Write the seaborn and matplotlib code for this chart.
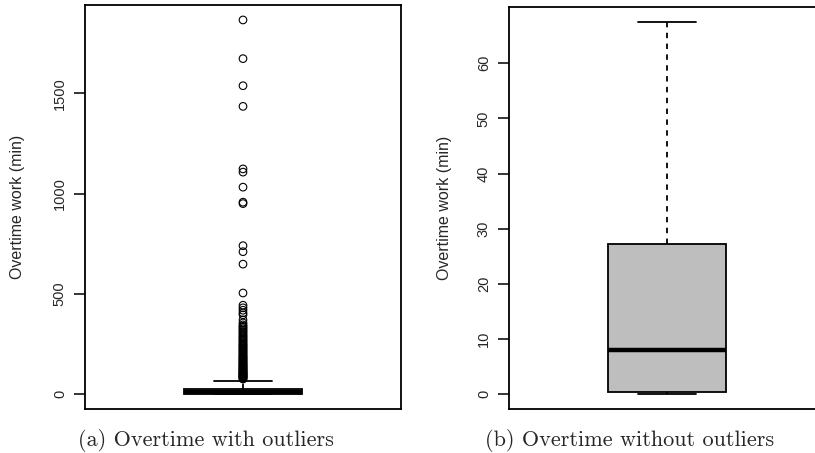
import numpy as np
import pandas as pd
import seaborn as sns
import matplotlib.pyplot as plt

# five-number summary of overtime (min)
overtime_core = [0.0, 0.36, 0.36, 7.92, 27.25, 27.25, 67.5]

# outliers drawn in the left panel (min)
overtime_outliers = [
    1866, 1673, 1538, 1435, 1123, 1107, 1032, 957, 950, 740, 710, 648, 504,
    443, 430, 418, 405, 395, 370, 355, 345, 338,
    332, 325, 318, 312, 305, 298, 292, 286, 280, 274, 268, 262, 256, 250,
    245, 240, 235, 230, 225, 220, 215, 210, 205, 200, 195, 190, 186, 182,
    178, 174, 170, 165, 161, 158, 154, 150, 146, 143, 140, 136, 133, 130,
    126, 123, 120, 117, 114, 110, 108, 105, 103, 100, 98, 95, 93, 90, 88,
    85, 83, 80, 78, 75,
]

left_ticks = [0, 500, 1000, 1500]
right_ticks = [0, 10, 20, 30, 40, 50, 60]
ylabel = "Overtime work (min)"
captions = ["(a) Overtime with outliers", "(b) Overtime without outliers"]

sns.set_style("white")
plt.rcParams["font.family"] = ["Liberation Sans", "DejaVu Sans"]

fig = plt.figure(figsize=(8.15, 4.53), dpi=100)
ax1 = fig.add_axes([85 / 815, 1 - 409 / 453, 316 / 815, 404 / 453])
ax2 = fig.add_axes([509 / 815, 1 - 409 / 453, 316 / 815, 402 / 453])

box_kws = dict(
    width=0.4, color="#BEBEBE", saturation=1, linecolor="black", linewidth=1.3,
    whis=np.inf, showfliers=False,
    whiskerprops=dict(linestyle=(0, (3, 3))),
    medianprops=dict(linewidth=3.2),
)

core = pd.DataFrame({"overtime": overtime_core})
out = pd.DataFrame({"x": np.zeros(len(overtime_outliers)), "overtime": overtime_outliers})

# (a) with outliers
sns.boxplot(data=core, y="overtime", ax=ax1, **box_kws)
sns.scatterplot(data=out, x="x", y="overtime", ax=ax1, marker="o", s=30,
                fc="none", ec="black", linewidth=0.8, zorder=3, legend=False)
ax1.set_ylim(-74.6, 1940.6)
ax1.set_yticks(left_ticks)

# (b) without outliers
sns.boxplot(data=core, y="overtime", ax=ax2, **box_kws)
ax2.set_ylim(-2.7, 70.2)
ax2.set_yticks(right_ticks)

for ax, lx in [(ax1, -0.19), (ax2, -0.18)]:
    ax.set_xlim(-0.54, 0.54)
    ax.set_xticks([])
    ax.set_xlabel("")
    ax.set_ylabel(ylabel, fontsize=11.5)
    ax.yaxis.set_label_coords(lx, 0.5)
    ax.tick_params(axis="y", length=8, width=1.1, pad=5, labelsize=10.5,
                   left=True, color="black")
    for lab in ax.get_yticklabels():
        lab.set_rotation(90)
        lab.set_va("center")
    for sp in ax.spines.values():
        sp.set_color("black")
        sp.set_linewidth(1.3)

fig.text(206 / 815, 1 - 440 / 453, captions[0], ha="center", va="center",
         family="cmr10", fontsize=16)
fig.text(630 / 815, 1 - 440 / 453, captions[1], ha="center", va="center",
         family="cmr10", fontsize=16)

fig.savefig("out.png", dpi=100)
